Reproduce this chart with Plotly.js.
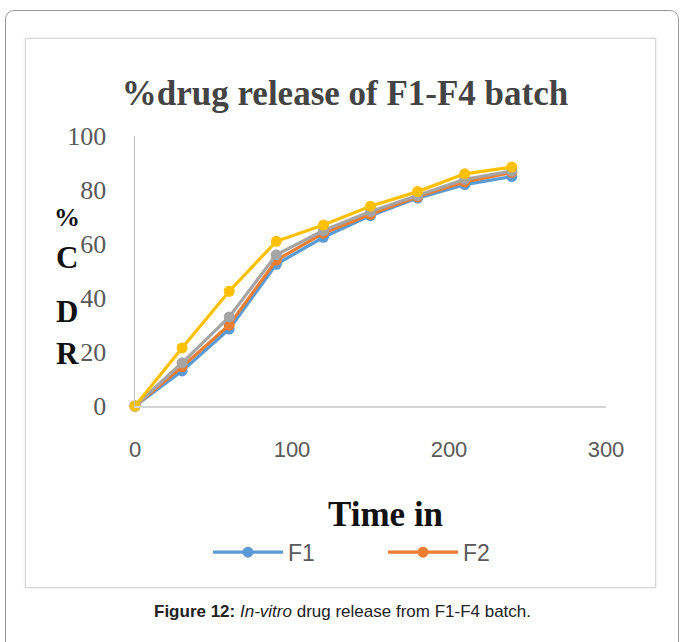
<!DOCTYPE html>
<html>
<head>
<meta charset="utf-8">
<script src="https://cdn.plot.ly/plotly-3.0.1.min.js"></script>
<style>
  html, body { margin: 0; padding: 0; background: #ffffff; }
  #wrap { position: relative; width: 680px; height: 642px; overflow: hidden; background: #fff; }
  #outer { position: absolute; left: 5px; top: 10px; width: 674px; height: 700px;
           border: 1.5px solid #9a9a9a; border-radius: 9px; box-sizing: border-box; }
  #inner { position: absolute; left: 25px; top: 38px; width: 631px; height: 550px;
           border: 1.5px solid #d6d6d6; box-sizing: border-box;
           box-shadow: 0 0 3px rgba(0,0,0,0.12); }
  #chart { position: absolute; left: 0; top: 0; width: 680px; height: 642px; }
</style>
</head>
<body>
<div id="wrap">
  <div id="outer"></div>
  <div id="inner"></div>
  <div id="chart"></div>
</div>
<script>
// Time (min)
const timePoints = [0, 30, 60, 90, 120, 150, 180, 210, 240];
// % cumulative drug release
const F1 = [0, 13, 28.5, 52.5, 62.5, 70.5, 77, 82, 85];
const F2 = [0, 14.5, 30, 54, 64, 71, 77.5, 83, 86.5];
const F3 = [0, 16, 33, 56, 65, 72, 78, 84, 87];
const F4 = [0, 21.5, 42.5, 61, 67, 74, 79.4, 86, 88.5];
const seriesNames = ['F1', 'F2', 'F3', 'F4'];
const seriesColors = ['#5B9BD5', '#ED7D31', '#A5A5A5', '#FFC000'];
const legendShown = [true, true, false, false];
const xTickVals = [0, 100, 200, 300];
const yTickVals = [0, 20, 40, 60, 80, 100];
const yTitleLetters = ['%', 'C', 'D', 'R'];
const yTitleLetterPos = [70, 55, 35, 19.5];

const allSeries = [F1, F2, F3, F4];
const traces = allSeries.map((vals, i) => ({
  x: timePoints, y: vals, name: seriesNames[i], type: 'scatter', mode: 'lines+markers',
  line: { color: seriesColors[i], width: 3.2 },
  marker: { color: seriesColors[i], size: 11, symbol: 'circle' },
  showlegend: legendShown[i], cliponaxis: false
}));

const serif = 'Liberation Serif, Times New Roman, serif';
const sans = 'Liberation Sans, Arial, sans-serif';
const px2x = p => (p - 135) / 471;
const px2y = p => (406.5 - p) / 270.5;

const annotations = yTitleLetters.map((t, i) => ({
  text: t, xref: 'paper', yref: 'y', x: px2x(67), y: yTitleLetterPos[i],
  xanchor: 'center', yanchor: 'middle', showarrow: false,
  font: { family: serif, size: i === 0 ? 26 : 31, color: '#111', weight: 'bold' }
}));
annotations.push({
  text: 'Time in', xref: 'paper', yref: 'paper', x: px2x(385), y: px2y(515),
  xanchor: 'center', yanchor: 'middle', showarrow: false,
  font: { family: serif, size: 35, color: '#111', weight: 'bold' }
});
annotations.push({
  text: '<b>Figure 12:</b> <i>In-vitro</i> drug release from F1-F4 batch.',
  xref: 'paper', yref: 'paper', x: px2x(342), y: px2y(612),
  xanchor: 'center', yanchor: 'middle', showarrow: false,
  font: { family: sans, size: 17, color: '#222' }
});

const layout = {
  width: 680, height: 642,
  margin: { l: 135, r: 74, t: 136, b: 235.5 },
  paper_bgcolor: 'rgba(0,0,0,0)', plot_bgcolor: 'rgba(0,0,0,0)',
  title: { text: '%drug release of F1-F4 batch', x: 345 / 680, xanchor: 'center',
           y: 1 - 93 / 642, yanchor: 'middle', yref: 'container',
           font: { family: serif, size: 35, color: '#444', weight: 'bold' } },
  xaxis: { range: [0, 300], tickvals: xTickVals, ticks: '', showgrid: false, zeroline: false,
           showline: true, linecolor: '#d4d4d4', linewidth: 2,
           tickfont: { family: sans, size: 22, color: '#595959' }, ticklabelstandoff: 23 },
  yaxis: { range: [0, 100], tickvals: yTickVals, ticks: '', showgrid: false, zeroline: false,
           showline: true, linecolor: '#bfbfbf', linewidth: 1.5,
           tickfont: { family: serif, size: 26, color: '#595959' }, ticklabelstandoff: 22 },
  legend: { orientation: 'h', x: px2x(208), xanchor: 'left', y: px2y(553), yanchor: 'middle',
            font: { family: sans, size: 23, color: '#595959' }, itemwidth: 70,
            entrywidth: 90, entrywidthmode: 'pixels', bgcolor: 'rgba(0,0,0,0)' },
  annotations: annotations,
  showlegend: true
};

Plotly.newPlot('chart', traces, layout, { displayModeBar: false, staticPlot: true }).then(gd => {
  // lengthen legend line samples to match the item width
  gd.querySelectorAll('.legend path.legendlines').forEach(p => p.setAttribute('d', 'M5,0h70'));
});
</script>
</body>
</html>
